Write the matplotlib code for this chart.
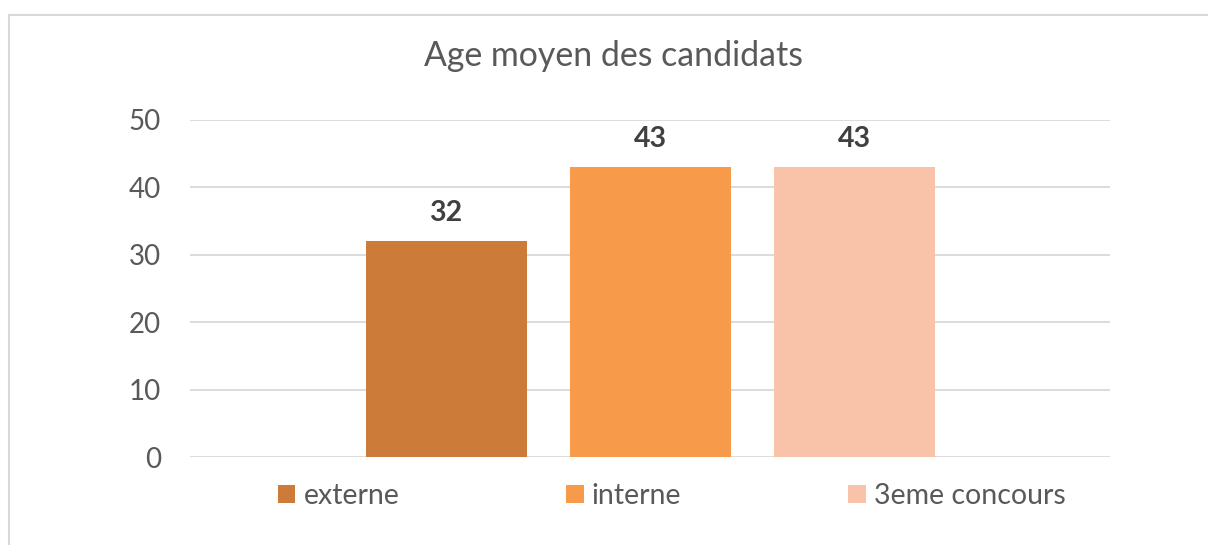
import matplotlib
matplotlib.use("Agg")
import matplotlib.pyplot as plt
from matplotlib.patches import Rectangle, Patch

title = "Age moyen des candidats"
series = ["externe", "interne", "3eme concours"]
values = [32, 43, 43]
colors = ["#CC7B38", "#F79A4A", "#F9C3A9"]
yticks = [0, 10, 20, 30, 40, 50]

W, H = 1208, 545
plt.rcParams["font.family"] = ["Lato", "DejaVu Sans"]
fig = plt.figure(figsize=(W / 100, H / 100), dpi=100)
fig.patch.set_facecolor("white")

# outer chart border
fig.add_artist(Rectangle((8.5 / W, -0.1), 1.2, (H - 15) / H + 0.1,
                         transform=fig.transFigure, fill=False,
                         edgecolor="#D9D9D9", linewidth=1.5))

ax = fig.add_axes([190 / W, 1 - 457 / H, (1110 - 190) / W, (457 - 120) / H])
ax.set_xlim(-0.5, 0.5)
ax.set_ylim(0, 50)

bw = 161 / 920
step = 204 / 920
handles = []
for i, (s, v, c) in enumerate(zip(series, values, colors)):
    x = (i - 1) * step
    ax.bar(x, v, width=bw, color=c, zorder=3)
    ax.text(x, v + 3.0, str(v), ha="center", va="baseline", fontsize=20.5,
            fontweight="bold", color="#404040")
    handles.append(Patch(facecolor=c, label=s))

ax.set_yticks(yticks)
ax.set_xticks([])
ax.grid(axis="y", color="#D9D9D9", linewidth=1.3, zorder=0)
for sp in ax.spines.values():
    sp.set_visible(False)
ax.tick_params(axis="y", length=0, pad=21, labelsize=20, labelcolor="#595959")

fig.text(614 / W, 1 - 66 / H, title, ha="center", va="baseline",
         fontsize=24.4, color="#595959")

leg = fig.legend(handles=handles, loc="center", bbox_to_anchor=(671.5 / W, 1 - 496 / H),
                 ncol=3, frameon=False, fontsize=20.5, handlelength=0.63,
                 handleheight=0.63, handletextpad=0.28, columnspacing=5.85,
                 labelcolor="#595959", borderpad=0, borderaxespad=0)

fig.savefig("out.png", dpi=100, facecolor="white")
